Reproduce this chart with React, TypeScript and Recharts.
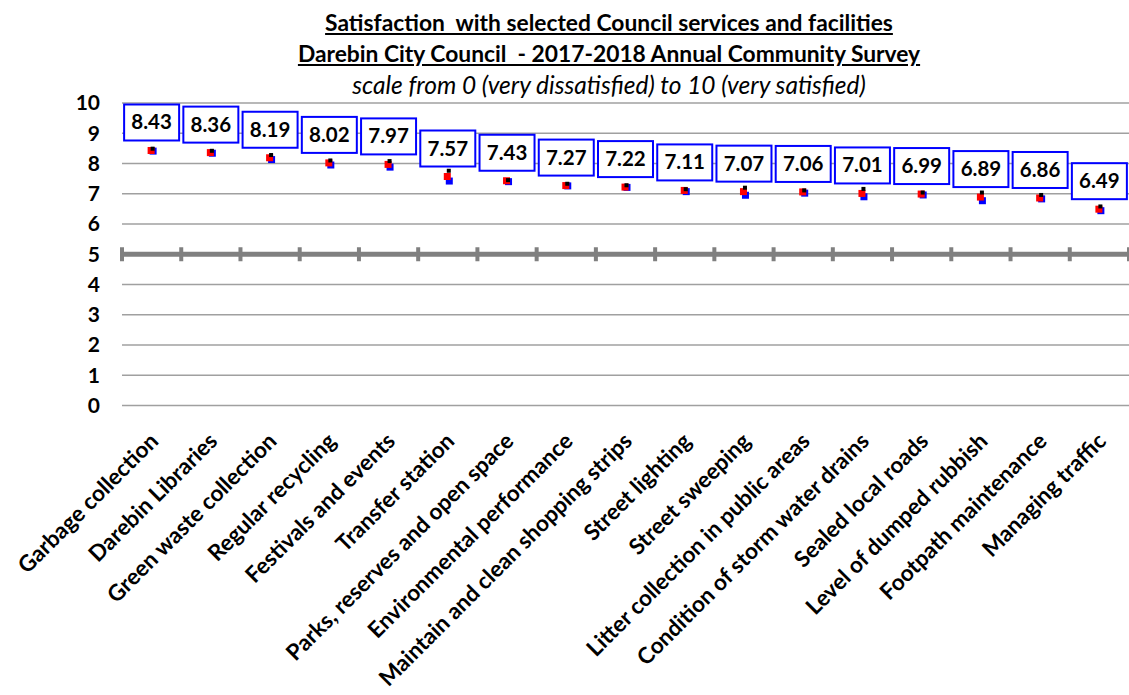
import React from 'react';
import {
  ComposedChart,
  Scatter,
  XAxis,
  YAxis,
  CartesianGrid,
  ReferenceLine,
} from 'recharts';

const categories = [
  'Garbage collection',
  'Darebin Libraries',
  'Green waste collection',
  'Regular recycling',
  'Festivals and events',
  'Transfer station',
  'Parks, reserves and open space',
  'Environmental performance',
  'Maintain and clean shopping strips',
  'Street lighting',
  'Street sweeping',
  'Litter collection in public areas',
  'Condition of storm water drains',
  'Sealed local roads',
  'Level of dumped rubbish',
  'Footpath maintenance',
  'Managing traffic',
];

const meanScores = [8.43, 8.36, 8.19, 8.02, 7.97, 7.57, 7.43, 7.27, 7.22, 7.11, 7.07, 7.06, 7.01, 6.99, 6.89, 6.86, 6.49];
const lowerScores = [8.41, 8.34, 8.13, 7.95, 7.88, 7.42, 7.40, 7.26, 7.21, 7.07, 6.95, 7.02, 6.90, 6.96, 6.77, 6.83, 6.44];
const upperScores = [8.49, 8.42, 8.28, 8.10, 8.08, 7.76, 7.45, 7.33, 7.28, 7.15, 7.20, 7.11, 7.16, 7.04, 7.04, 6.96, 6.58];
const yTicks = [0, 1, 2, 3, 4, 5, 6, 7, 8, 9, 10];

const data = categories.map((name, i) => ({
  name,
  mean: meanScores[i],
  lower: lowerScores[i],
  upper: upperScores[i],
}));

const FONT = 'Lato, "Open Sans", sans-serif';

const XTick = (props: any) => {
  const { x, y, payload } = props;
  const ax = x + 8;
  const ay = y + 37;
  return (
    <text
      x={ax}
      y={ay}
      transform={`rotate(-45, ${ax}, ${ay})`}
      textAnchor="end"
      fontFamily={FONT}
      fontWeight={700}
      fontSize={22.5}
      fill="#000"
    >
      {payload.value}
    </text>
  );
};

const BlueShape = (props: any) => {
  const { cx, cy } = props;
  if (cx == null || cy == null) return null;
  return <rect x={cx - 2} y={cy - 3.5} width={7} height={7} fill="#0000ff" />;
};

const RedShape = (props: any) => {
  const { cx, cy, payload } = props;
  if (cx == null || cy == null) return null;
  const by = cy - 28;
  return (
    <g>
      <rect x={cx - 4} y={cy - 3.5} width={7} height={7} fill="#ff0000" />
      <rect x={cx - 27.5} y={by - 18} width={55} height={36} fill="#ffffff" stroke="#0000ff" strokeWidth={2} />
      <text
        x={cx}
        y={by + 7}
        textAnchor="middle"
        fontFamily={FONT}
        fontWeight={700}
        fontSize={20.5}
        fill="#000"
      >
        {Number(payload.mean).toFixed(2)}
      </text>
    </g>
  );
};

const BlackShape = (props: any) => {
  const { cx, cy } = props;
  if (cx == null || cy == null) return null;
  return <rect x={cx - 1} y={cy - 2} width={4} height={4} fill="#000000" />;
};

const MidLine = (props: any) => {
  const { x1, y1, x2 } = props;
  const n = categories.length;
  const step = (x2 - x1) / n;
  const ticks = [];
  for (let i = 0; i <= n; i++) {
    const tx = x1 + i * step;
    ticks.push(<rect key={i} x={tx - 2} y={y1 - 7} width={4} height={14} fill="#808080" />);
  }
  return (
    <g>
      <line x1={x1} y1={y1} x2={x2} y2={y1} stroke="#808080" strokeWidth={5} />
      {ticks}
    </g>
  );
};

export default function App() {
  return (
    <div style={{ position: 'absolute', left: 0, top: 0, width: 1129, height: 695, background: '#fff' }}>
      <div style={{ position: 'absolute', left: 0, top: 0 }}>
        <ComposedChart
          width={1129}
          height={695}
          data={data}
          margin={{ top: 103, right: 0, bottom: 0, left: 0 }}
        >
          <CartesianGrid horizontal vertical={false} stroke="#a0a0a0" strokeWidth={1.5} />
          <XAxis
            dataKey="name"
            type="category"
            scale="band"
            interval={0}
            axisLine={false}
            tickLine={false}
            tickSize={0}
            tickMargin={0}
            height={289.5}
            tick={<XTick />}
          />
          <YAxis
            type="number"
            domain={[0, 10]}
            ticks={yTicks}
            interval={0}
            width={122}
            axisLine={false}
            tickLine={false}
            tickSize={0}
            tickMargin={22}
            tick={{ fontFamily: FONT, fontWeight: 700, fontSize: 21, fill: '#000' }}
          />
          <ReferenceLine y={5} shape={<MidLine />} />
          <Scatter dataKey="lower" isAnimationActive={false} shape={<BlueShape />} />
          <Scatter dataKey="mean" isAnimationActive={false} shape={<RedShape />} />
          <Scatter dataKey="upper" isAnimationActive={false} shape={<BlackShape />} />
        </ComposedChart>
      </div>
      <div
        style={{
          position: 'absolute',
          left: 0,
          width: 1218,
          top: 7,
          textAlign: 'center',
          fontFamily: FONT,
          color: '#000',
          lineHeight: '31px',
          pointerEvents: 'none',
        }}
      >
        <div style={{ fontWeight: 700, textDecoration: 'underline', fontSize: 22.8 }}>
          Satisfaction&nbsp; with selected Council services and facilities
        </div>
        <div style={{ fontWeight: 700, textDecoration: 'underline', fontSize: 22.8 }}>
          Darebin City Council&nbsp; - 2017-2018 Annual Community Survey
        </div>
        <div style={{ fontStyle: 'italic', fontSize: 24.5 }}>
          scale from 0 (very dissatisfied) to 10 (very satisfied)
        </div>
      </div>
    </div>
  );
}
